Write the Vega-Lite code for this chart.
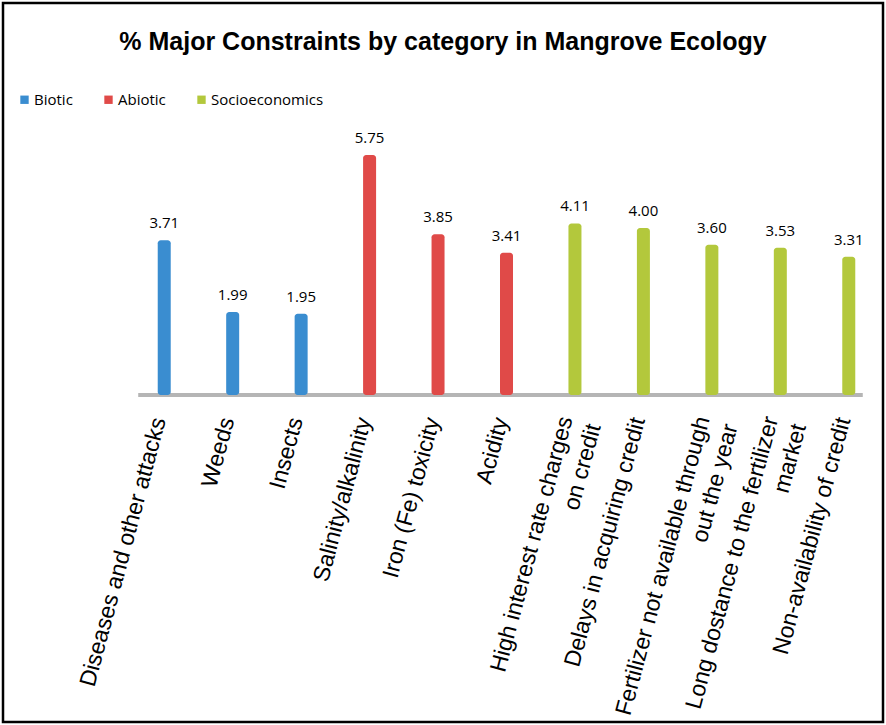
{
  "$schema": "https://vega.github.io/schema/vega-lite/v6.json",
  "width": 880,
  "height": 719,
  "autosize": {"type": "none"},
  "padding": 3,
  "background": "white",
  "config": {
    "view": {"stroke": "black", "strokeWidth": 2.5},
    "legend": {"labelColor": "black"}
  },
  "title": {
    "text": "% Major Constraints by category in Mangrove Ecology",
    "font": "Liberation Sans",
    "fontSize": 25,
    "fontWeight": "bold",
    "color": "black",
    "anchor": "middle",
    "offset": -52
  },
  "data": {
    "values": [
      {"constraint": "Diseases and other attacks", "category": "Biotic", "value": 3.71},
      {"constraint": "Weeds", "category": "Biotic", "value": 1.99},
      {"constraint": "Insects", "category": "Biotic", "value": 1.95},
      {"constraint": "Salinity/alkalinity", "category": "Abiotic", "value": 5.75},
      {"constraint": "Iron (Fe) toxicity", "category": "Abiotic", "value": 3.85},
      {"constraint": "Acidity", "category": "Abiotic", "value": 3.41},
      {"constraint": "High interest rate charges\non credit", "category": "Socioeconomics", "value": 4.11},
      {"constraint": "Delays in acquiring credit", "category": "Socioeconomics", "value": 4.0},
      {"constraint": "Fertilizer not available through\nout the year", "category": "Socioeconomics", "value": 3.6},
      {"constraint": "Long dostance to the fertilizer\nmarket", "category": "Socioeconomics", "value": 3.53},
      {"constraint": "Non-availability of credit", "category": "Socioeconomics", "value": 3.31}
    ]
  },
  "layer": [
    {
      "data": {"values": [{}]},
      "mark": {"type": "rule", "color": "#b5b5b5", "strokeWidth": 4, "xOffset": -26, "x2Offset": 14},
      "encoding": {
        "x": {
          "datum": "Diseases and other attacks",
          "type": "nominal",
          "scale": {
            "domain": [
              "Diseases and other attacks",
              "Weeds",
              "Insects",
              "Salinity/alkalinity",
              "Iron (Fe) toxicity",
              "Acidity",
              "High interest rate charges\non credit",
              "Delays in acquiring credit",
              "Fertilizer not available through\nout the year",
              "Long dostance to the fertilizer\nmarket",
              "Non-availability of credit"
            ],
            "range": [127, 880],
            "paddingInner": 0,
            "paddingOuter": 0
          },
          "axis": null
        },
        "x2": {"datum": "Non-availability of credit"},
        "y": {"datum": 0, "type": "quantitative", "scale": {"domain": [-7.83, 9.39], "nice": false}, "axis": null}
      }
    },
    {
      "mark": {"type": "bar", "width": 13, "cornerRadius": 3},
      "encoding": {
        "x": {"field": "constraint", "type": "nominal", "sort": null, "axis": null},
        "y": {"field": "value", "type": "quantitative", "axis": null},
        "y2": {"datum": 0},
        "color": {
          "field": "category",
          "type": "nominal",
          "scale": {"domain": ["Biotic", "Abiotic", "Socioeconomics"], "range": ["#3a8dd0", "#e04a48", "#b3c83c"]},
          "legend": {
            "orient": "none",
            "legendX": 14,
            "legendY": 89,
            "direction": "horizontal",
            "title": null,
            "symbolType": "square",
            "symbolSize": 70,
            "symbolStrokeWidth": 0,
            "labelFont": "Open Sans",
            "labelFontSize": 15,
            "labelOffset": 2,
            "columnPadding": 28,
            "padding": 0
          }
        }
      }
    },
    {
      "mark": {"type": "text", "font": "Open Sans", "fontSize": 15, "baseline": "alphabetic", "dy": -12, "color": "black"},
      "encoding": {
        "x": {"field": "constraint", "type": "nominal", "sort": null, "axis": null},
        "y": {"field": "value", "type": "quantitative", "axis": null},
        "text": {"field": "value", "type": "quantitative", "format": ".2f"}
      }
    },
    {
      "transform": [{"filter": "indexof(datum.constraint, '\\n') < 0"}],
      "mark": {"type": "text", "font": "Liberation Sans", "fontSize": 23, "angle": -75, "align": "right", "baseline": "middle", "xOffset": -5, "yOffset": 23, "color": "black"},
      "encoding": {
        "x": {"field": "constraint", "type": "nominal", "sort": null, "axis": null},
        "y": {"datum": 0},
        "text": {"field": "constraint", "type": "nominal"}
      }
    },
    {
      "transform": [{"filter": "indexof(datum.constraint, '\\n') >= 0"}],
      "mark": {"type": "text", "font": "Liberation Sans", "fontSize": 23, "angle": -75, "align": "right", "baseline": "middle", "xOffset": -5, "yOffset": 23, "dy": -4, "lineBreak": "\n", "lineHeight": 29, "color": "black"},
      "encoding": {
        "x": {"field": "constraint", "type": "nominal", "sort": null, "axis": null},
        "y": {"datum": 0},
        "text": {"field": "constraint", "type": "nominal"}
      }
    }
  ]
}
